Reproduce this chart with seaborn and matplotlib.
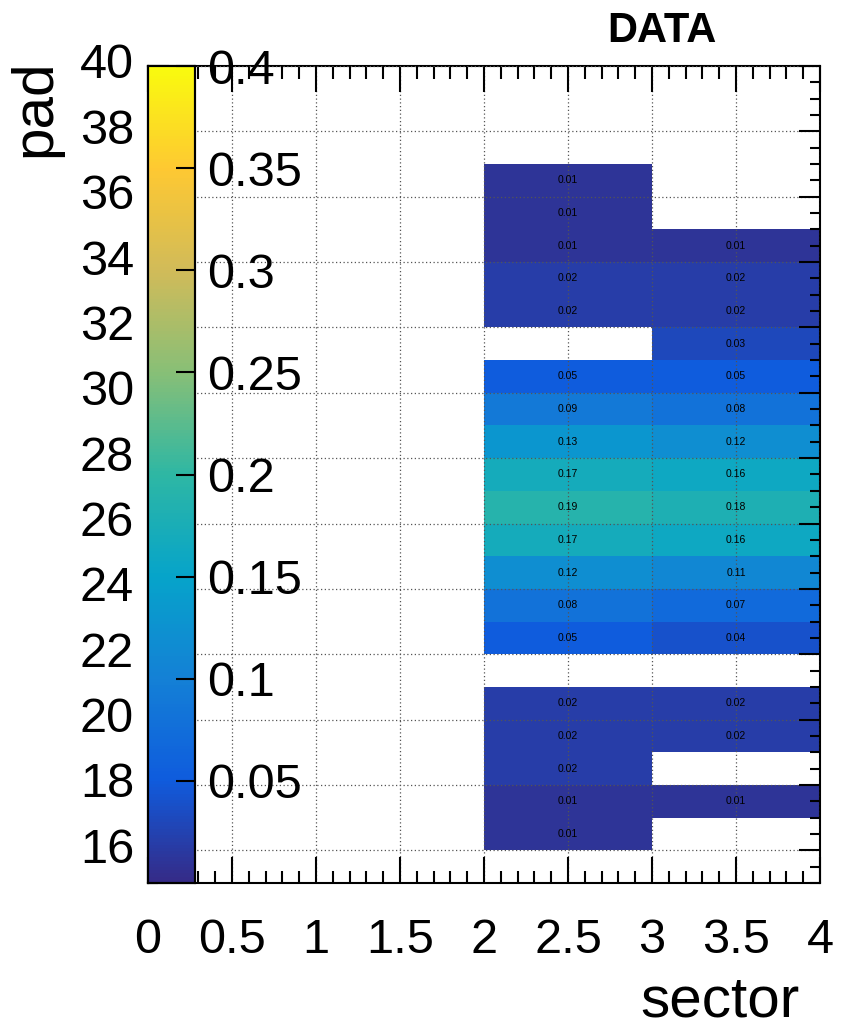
import numpy as np
import pandas as pd
import seaborn as sns
import matplotlib.pyplot as plt
from matplotlib.colors import LinearSegmentedColormap

# --- data ---
pads = list(range(16, 37))
sector2 = [0.01, 0.01, 0.02, 0.02, 0.02, np.nan, 0.05, 0.08, 0.12, 0.17, 0.19,
           0.17, 0.13, 0.09, 0.05, np.nan, 0.02, 0.02, 0.01, 0.01, 0.01]
sector3 = [np.nan, 0.01, np.nan, 0.02, 0.02, np.nan, 0.04, 0.07, 0.11, 0.16, 0.18,
           0.16, 0.12, 0.08, 0.05, 0.03, 0.02, 0.02, 0.01, np.nan, np.nan]
x_ticks = [0, 0.5, 1, 1.5, 2, 2.5, 3, 3.5, 4]
x_labels = ['0', '0.5', '1', '1.5', '2', '2.5', '3', '3.5', '4']
y_ticks = list(range(16, 41, 2))
z_ticks = [0.05, 0.1, 0.15, 0.2, 0.25, 0.3, 0.35, 0.4]
z_labels = ['0.05', '0.1', '0.15', '0.2', '0.25', '0.3', '0.35', '0.4']

# grid of pad rows 0..39 x sector columns 0..3 so cells sit at their own values
grid = pd.DataFrame(np.nan, index=range(40), columns=range(4))
grid.loc[pads, 2] = sector2
grid.loc[pads, 3] = sector3

# ROOT kBird palette
r = [0.2082, 0.0592, 0.0780, 0.0232, 0.1802, 0.5301, 0.8186, 0.9956, 0.9764]
g = [0.1664, 0.3599, 0.5041, 0.6419, 0.7178, 0.7492, 0.7328, 0.7862, 0.9832]
b = [0.5293, 0.8684, 0.8385, 0.7914, 0.6425, 0.4662, 0.3499, 0.1968, 0.0539]
bird = LinearSegmentedColormap.from_list('bird', list(zip(r, g, b)), N=256)

plt.rcParams['font.family'] = ['Liberation Sans', 'DejaVu Sans']

fig = plt.figure(figsize=(8.41, 10.30), dpi=100)
ax = fig.add_axes([148/841, 1 - 883/1030, 672/841, 817/1030])
cax = fig.add_axes([148/841, 1 - 883/1030, 47/841, 817/1030])

sns.heatmap(grid, ax=ax, cbar_ax=cax, cmap=bird, vmin=0, vmax=0.4,
            annot=True, fmt='.2f',
            annot_kws={'color': 'black', 'fontsize': 7.5})

# back to a numeric ROOT-like frame
ax.set_xlim(0, 4)
ax.set_ylim(15, 40)
for s in ax.spines.values():
    s.set_visible(True)
    s.set_linewidth(1.5)
    s.set_color('black')

ax.set_xticks(x_ticks)
ax.set_xticklabels(x_labels, rotation=0)
ax.set_xticks(np.arange(0, 4.01, 0.1), minor=True)
ax.set_yticks(y_ticks)
ax.set_yticklabels([str(v) for v in y_ticks], rotation=0)
ax.set_yticks(np.arange(15, 40.01, 0.5), minor=True)
ax.tick_params(axis='both', which='both', direction='in', top=True, right=True,
               color='black', width=1.5)
ax.tick_params(axis='x', which='major', length=19, labelsize=35, pad=25)
ax.tick_params(axis='x', which='minor', length=9)
ax.tick_params(axis='y', which='major', length=15, labelsize=35, pad=10)
ax.tick_params(axis='y', which='minor', length=7)

ax.set_axisbelow(False)
ax.grid(True, which='major', linestyle=(0, (1, 2)), color='#555555', linewidth=0.9)

ax.set_xlabel('sector', fontsize=42, loc='right')
ax.xaxis.set_label_coords(0.97, -0.112)
ax.set_ylabel('pad', fontsize=42, loc='top')
ax.yaxis.set_label_coords(-0.128, 1.008)

# colorbar sits on top of the frame like in ROOT
cax.set_yticks(z_ticks)
cax.set_yticklabels(z_labels)
cax.tick_params(axis='y', direction='in', length=14, width=1.5, labelsize=35,
                pad=9, right=True, left=False, labelright=True, labelleft=False)
cax.yaxis.set_ticks_position('right')
for s in cax.spines.values():
    s.set_visible(True)
    s.set_linewidth(1.5)

fig.text(662/841, 1 - 31/1030, 'DATA', fontsize=30, fontweight='bold',
         ha='center', va='center')

fig.savefig('out.png', dpi=100)
